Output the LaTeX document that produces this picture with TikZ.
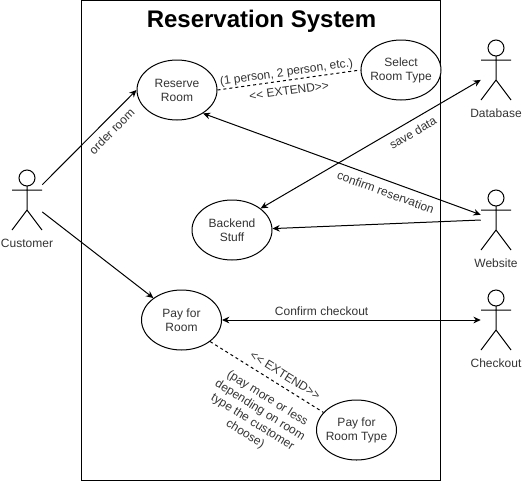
\documentclass[tikz,border=0pt]{standalone}
\usepackage{fontspec}
\setmainfont{Liberation Sans}
\usetikzlibrary{shapes.geometric, arrows.meta, positioning}
\definecolor{txtgrey}{HTML}{333333}
\tikzstyle{usecase} = [ellipse, draw=black, fill=white, line width=0.75pt, inner sep=-6pt,
                       minimum width=60pt, minimum height=45pt, align=center,
                       text=txtgrey, font=\fontsize{9}{10.5}\selectfont]
\tikzstyle{actorbox} = [rectangle, inner sep=0pt, minimum width=22.5pt, minimum height=45pt]
\tikzstyle{actortxt} = [inner sep=0pt, text=txtgrey, font=\fontsize{9}{10.5}\selectfont]
\tikzstyle{edgetxt} = [inner sep=1pt, align=center, text=txtgrey, font=\fontsize{9}{10.5}\selectfont]
\tikzstyle{arrow}  = [-{Stealth[length=5.5pt,width=5pt]}, line width=0.75pt]
\tikzstyle{barrow} = [{Stealth[length=5.5pt,width=5pt]}-{Stealth[length=5.5pt,width=5pt]}, line width=0.75pt]
\tikzstyle{extline} = [line width=0.75pt, dash pattern=on 2.25pt off 2.25pt]
\begin{document}
\begin{tikzpicture}[x=0.75pt, y=-0.75pt]
  \useasboundingbox (0,0) rectangle (524,482);

  % System box
  \node[draw=black, line width=0.75pt, inner sep=0pt, minimum width=269.6pt, minimum height=360pt]
    (sysbox) at (261.25,240) {};
  \node[inner sep=0pt, font=\fontsize{18}{20}\selectfont\bfseries] (title) at (261.5,21) {Reservation System};

  % Use cases
  \node[usecase] (res)   at (177,90)    {Reserve\\Room};
  \node[usecase] (sel)   at (401,70)    {Select\\Room Type};
  \node[usecase] (back)  at (232,230)   {Backend\\Stuff};
  \node[usecase] (pay)   at (181.5,320) {Pay for\\Room};
  \node[usecase] (ptype) at (356.5,430) {Pay for\\Room Type};

  % Actors
  \foreach \nm/\px/\py/\txt in {cust/27/200/Customer, db/496/70/Database,
                                web/496/220/Website, chk/496/320/Checkout} {
    \node[actorbox] (\nm) at (\px,\py) {};
    \node[actortxt, below=6.5pt of \nm] (\nm txt) {\txt};
    \draw[line width=0.75pt, shift={(\px,\py)}] (0,-22) circle (8)
      (0,-14) -- (0,10) (-15,-10) -- (15,-10) (-15,30) -- (0,10) -- (15,30);
  }

  % Customer side
  \draw[arrow] (cust.45) -- node[edgetxt, sloped, below=4pt, pos=.65] (ordertxt) {order room} (res.west);
  \draw[arrow] (cust.-38.7) -- (pay.142.3);

  % Extends
  \draw[extline] (res.east) --
    node[edgetxt, sloped, above=0pt, pos=.49] (persontxt) {(1 person, 2 person, etc.)}
    node[edgetxt, sloped, below=3.5pt, pos=.49] (exttxta) {<{}< EXTEND>{}>} (sel.west);
  \draw[extline] (pay.-37.5) --
    node[edgetxt, sloped, above=4pt, pos=.61] (exttxtb) {<{}< EXTEND>{}>}
    node[edgetxt, sloped, below=8pt, pos=.59] (moretxt) {(pay more or less\\depending on room\\type the customer\\choose)} (ptype.152);

  % Website, database, checkout
  \draw[barrow] (res.-42) -- node[edgetxt, sloped, below=4pt, pos=.672] (conftxt) {confirm reservation} (web.161.6);
  \draw[barrow] (back.37.5) -- node[edgetxt, sloped, below=4pt, pos=.665] (savetxt) {save data} (db.213.7);
  \draw[arrow] (web.west) -- (back.2);
  \draw[barrow] (pay.east) -- node[edgetxt, above=2pt, pos=.385] (checktxt) {Confirm checkout} (chk.west);
\end{tikzpicture}
\end{document}
